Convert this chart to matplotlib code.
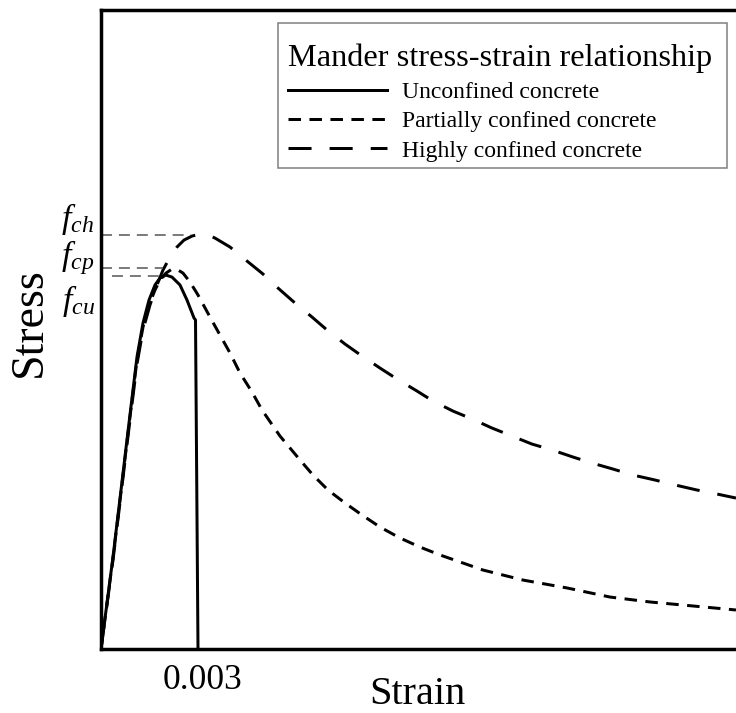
import matplotlib
matplotlib.use("Agg")
import matplotlib.pyplot as plt
from matplotlib.patches import Rectangle
from matplotlib.transforms import ScaledTranslation

plt.rcParams['font.family'] = ['Liberation Serif', 'DejaVu Serif']
plt.rcParams['mathtext.fontset'] = 'custom'
plt.rcParams['mathtext.rm'] = 'Liberation Serif'
plt.rcParams['mathtext.it'] = 'Liberation Serif:italic'
plt.rcParams['lines.scale_dashes'] = False

# ---- data (strain, stress in MPa) ----
unconf_strain = [0, 0.000371, 0.000619, 0.000866, 0.001113, 0.001299, 0.001485, 0.00167,
                 0.001825, 0.00201, 0.002196, 0.002443, 0.00266, 0.002876, 0.002923, 0.003]
unconf_stress = [0, 6.89, 11.90, 16.92, 21.86, 24.40, 26.12, 27.25,
                 27.77, 27.99, 27.84, 27.25, 26.12, 24.78, 24.63, 0]

partial_strain = [0, 0.000371, 0.000619, 0.000866, 0.001113, 0.001299, 0.001485, 0.00167,
                  0.001825, 0.00201, 0.002196, 0.002381, 0.002536, 0.002753, 0.003, 0.003371,
                  0.00368, 0.00399, 0.004299, 0.00467, 0.00498, 0.005536, 0.006155, 0.006557,
                  0.007021, 0.007546, 0.008072, 0.008629, 0.009247, 0.009866, 0.010485,
                  0.011815, 0.013052, 0.014412, 0.015742, 0.01698, 0.01831, 0.01964]
partial_stress = [0, 6.81, 11.75, 16.77, 21.63, 24.10, 25.75, 26.87,
                  27.62, 28.14, 28.44, 28.37, 28.14, 27.47, 26.50, 24.85,
                  23.50, 22.16, 20.66, 19.24, 17.89, 15.94, 14.15, 13.02,
                  11.90, 10.93, 10.03, 9.13, 8.31, 7.63, 7.04,
                  5.91, 5.16, 4.57, 3.89, 3.52, 3.22, 2.92]

high_strain = [0, 0.000371, 0.000619, 0.000866, 0.001113, 0.001299, 0.001515, 0.001732,
               0.001918, 0.002134, 0.002351, 0.002567, 0.002814, 0.003062, 0.003309, 0.003526,
               0.00399, 0.004516, 0.00501, 0.005474, 0.006, 0.006526, 0.00699, 0.007546,
               0.008072, 0.008629, 0.009155, 0.009773, 0.010268, 0.010887, 0.011474,
               0.012093, 0.012711, 0.01333, 0.013948, 0.014598, 0.015186, 0.015835,
               0.016454, 0.017134, 0.017753, 0.018433, 0.019052, 0.01964]
high_stress = [0, 6.66, 11.60, 16.54, 21.33, 23.88, 25.75, 27.25,
               28.37, 29.34, 30.09, 30.61, 30.91, 31.06, 30.99, 30.76,
               30.09, 29.04, 28.07, 27.02, 25.90, 24.85, 23.88, 22.83,
               21.93, 21.03, 20.21, 19.31, 18.56, 17.81, 17.22,
               16.54, 15.94, 15.34, 14.90, 14.37, 13.92, 13.47,
               13.02, 12.65, 12.28, 11.90, 11.60, 11.30]

series_labels = ['Unconfined concrete', 'Partially confined concrete', 'Highly confined concrete']
legend_title = 'Mander stress-strain relationship'

# reference (peak) stress levels and the strain extents of their guide lines
peak_labels = [r'$f_{ch}$', r'$f_{cp}$', r'$f_{cu}$']
peak_levels = [30.99, 28.52, 27.92]
guide_start = [0.0, 0.0, 0.000340]
guide_end = [0.002785, 0.001920, 0.002010]

xtick_values = [0.003]
xtick_labels = ['0.003']

# ---- figure ----
W, H = 736, 713
fig = plt.figure(figsize=(W / 100, H / 100), dpi=100)
ax_left, ax_bottom_px, ax_top_px = 101, 649, 9.5
ax = fig.add_axes([ax_left / W, (H - ax_bottom_px) / H, (W - ax_left) / W,
                   (ax_bottom_px - ax_top_px) / H])
ax.set_xlim(0, 0.01964)
ax.set_ylim(0, 47.87)

lw = 2.16
ax.plot(unconf_strain, unconf_stress, color='black', lw=lw, label=series_labels[0],
        solid_joinstyle='round')
ax.plot(partial_strain, partial_stress, color='black', lw=lw, label=series_labels[1],
        linestyle=(0, (9.0, 6.1)))
ax.plot(high_strain, high_stress, color='black', lw=lw, label=series_labels[2],
        linestyle=(0, (16.6, 13.0)))

for lev, x0, x1 in zip(peak_levels, guide_start, guide_end):
    ax.plot([x0, x1], [lev, lev], color='#555555', lw=1.1, linestyle=(0, (7.9, 5.0)))

offsets = [(-5, 5), (-5, 2), (-4, -24.5)]
for lab, lev, off in zip(peak_labels, peak_levels, offsets):
    ax.annotate(lab, xy=(0, lev), xycoords=('axes fraction', 'data'),
                xytext=off, textcoords='offset points', ha='right', va='baseline',
                fontsize=24.5, annotation_clip=False)

for side in ['left', 'bottom', 'top']:
    ax.spines[side].set_linewidth(2.5)
    ax.spines[side].set_color('black')
ax.spines['right'].set_visible(False)

ax.set_yticks([])
ax.set_xticks(xtick_values)
ax.set_xticklabels(xtick_labels, fontsize=25.5)
ax.tick_params(axis='x', length=0, pad=11)
for t in ax.get_xticklabels():
    t.set_transform(t.get_transform() + ScaledTranslation(3.5 / 72, 0, fig.dpi_scale_trans))

ax.set_xlabel('Strain', fontsize=29, va='center')
ax.xaxis.set_label_coords(0.499, -0.0712)
ax.set_ylabel('Stress', fontsize=33, va='center')
ax.yaxis.set_label_coords(-0.1118, 0.511)

# legend frame drawn as its own box, legend content placed inside it
ax.add_patch(Rectangle((0.2787, 0.7522), 0.9858 - 0.2787, 0.9789 - 0.7522,
                       transform=ax.transAxes, facecolor='white', edgecolor='#808080',
                       lw=1.1, zorder=4))
leg = ax.legend(title=legend_title, loc='upper left', bbox_to_anchor=(0.2945, 0.9462),
                borderaxespad=0, fontsize=17, title_fontsize=23.3, alignment='left',
                handlelength=4.2, handletextpad=0.64, labelspacing=0.335, borderpad=0,
                frameon=False)
leg.set_zorder(5)

fig.savefig('out.png', dpi=100)
